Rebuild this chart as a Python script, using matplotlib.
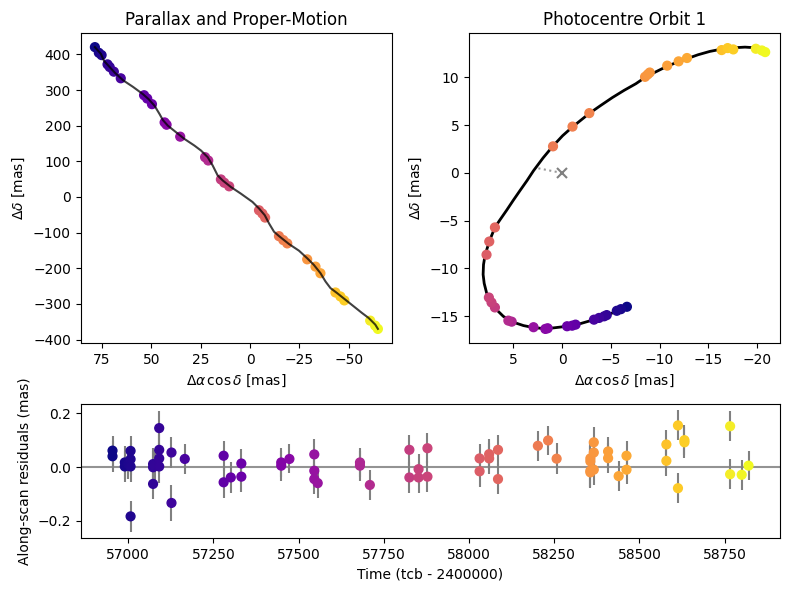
import matplotlib
matplotlib.use("Agg")
import matplotlib.pyplot as plt
from matplotlib.colors import Normalize

# ---------------- residual panel data ----------------
res_time = [56954, 56954, 56990, 56990, 57000, 57007, 57007, 57007, 57007,
            57073, 57073, 57073, 57078, 57091, 57091, 57091, 57091,
            57127, 57127, 57166, 57280, 57280, 57301, 57332, 57332,
            57449, 57449, 57473, 57546, 57546, 57546, 57556, 57680, 57680, 57709,
            57825, 57825, 57852, 57852, 57878, 57878,
            58031, 58031, 58059, 58059, 58085, 58085, 58202, 58232, 58257,
            58356, 58356, 58356, 58356, 58366, 58366, 58366, 58408, 58408,
            58439, 58462, 58462, 58579, 58579, 58613, 58613, 58632, 58632,
            58766, 58766, 58800, 58820]
res_value = [0.061, 0.040, 0.017, 0.002, 0.011, 0.060, 0.029, 0.002, -0.184,
             0.011, -0.001, -0.063, 0.005, 0.145, 0.064, 0.032, 0.002,
             0.054, -0.134, 0.030, 0.042, -0.057, -0.039, 0.013, -0.036,
             0.017, 0.005, 0.030, 0.047, -0.014, -0.045, -0.060, 0.017, 0.005, -0.067,
             0.064, -0.039, -0.008, -0.039, 0.070, -0.036,
             0.032, -0.016, 0.048, 0.032, 0.064, -0.045, 0.079, 0.099, 0.031,
             0.032, 0.021, -0.014, -0.020, 0.092, 0.054, -0.010, 0.058, 0.033,
             -0.034, 0.042, -0.010, 0.084, 0.023, 0.155, -0.079, 0.100, 0.092,
             0.152, -0.027, -0.029, 0.005]
res_error = [0.056, 0.058, 0.060, 0.058, 0.057, 0.056, 0.060, 0.058, 0.059,
             0.058, 0.060, 0.057, 0.058, 0.063, 0.060, 0.058, 0.060,
             0.056, 0.067, 0.055, 0.056, 0.058, 0.057, 0.055, 0.056,
             0.055, 0.056, 0.054, 0.056, 0.058, 0.057, 0.056, 0.054, 0.056, 0.055,
             0.057, 0.058, 0.056, 0.057, 0.056, 0.058,
             0.055, 0.057, 0.056, 0.058, 0.056, 0.057, 0.056, 0.055, 0.058,
             0.057, 0.058, 0.060, 0.058, 0.058, 0.056, 0.057, 0.055, 0.056,
             0.056, 0.054, 0.055, 0.055, 0.056, 0.056, 0.055, 0.056, 0.057,
             0.055, 0.055, 0.056, 0.055]

# ---------------- parallax + proper motion panel ----------------
pm_time = [56954, 56990, 57007, 57073, 57091, 57127, 57166, 57280, 57301, 57332,
           57449, 57473, 57546, 57680, 57709, 57825, 57852, 57878,
           58031, 58059, 58085, 58202, 58232, 58257, 58356, 58408, 58439,
           58579, 58613, 58632, 58766, 58800, 58820]
pm_ra = [78.6, 76.6, 75.2, 72.2, 71.1, 69.0, 65.5, 53.7, 52.1, 49.7,
         43.3, 42.3, 35.4, 22.8, 21.2, 14.8, 13.1, 10.6,
         -4.5, -6.2, -7.6, -14.6, -16.8, -18.8, -28.9, -33.1, -35.6,
         -43.2, -45.7, -47.7, -60.8, -63.3, -64.7]
pm_dec = [420.6, 404.7, 398.2, 372.2, 364.7, 351.7, 333.1, 285.6, 276.3, 260.5,
          209.3, 202.8, 169.3, 111.7, 102.4, 49.3, 40.0, 29.9,
          -37.3, -46.6, -57.8, -109.9, -121.0, -130.3, -175.0, -195.4, -214.0,
          -268.0, -279.1, -290.3, -347.0, -361.0, -370.3]
pm_model_ra = [78.61, 75.59, 73.91, 71.89, 68.53, 64.33, 59.29, 54.25, 51.39, 48.37,
               45.85, 44.17, 41.65, 37.45, 33.25, 28.21, 24.85, 21.49, 18.97, 16.45,
               13.93, 9.73, 4.69, -1.19, -4.55, -7.41, -9.59, -12.11, -14.63, -19.67,
               -24.71, -28.91, -32.27, -35.64, -38.16, -40.68, -44.04, -48.24, -52.44,
               -56.64, -60.0, -63.36, -64.70]
pm_model_dec = [420.6, 402.0, 381.5, 369.4, 349.0, 327.6, 309.0, 288.5, 274.5, 255.9,
                232.7, 215.9, 200.1, 181.5, 162.9, 144.3, 130.3, 111.7, 88.5, 60.6,
                46.6, 28.0, 9.4, -13.9, -32.5, -51.1, -74.3, -97.6, -109.7, -132.0,
                -150.6, -172.0, -190.6, -213.9, -237.1, -255.7, -269.7, -288.3, -306.9,
                -325.5, -339.5, -358.1, -370.2]

# ---------------- photocentre orbit panel ----------------
orb_time = [56954, 56990, 57007, 57073, 57091, 57127, 57166, 57280, 57301, 57332,
            57449, 57473, 57546, 57680, 57709, 57825, 57852, 57878,
            58031, 58059, 58085, 58202, 58232, 58257, 58356, 58366, 58375,
            58408, 58439, 58462, 58579, 58613, 58632, 58766, 58800, 58820]
orb_ra = [-6.65, -6.03, -5.61, -4.58, -4.31, -3.79, -3.27, -1.38, -1.03, -0.51,
          1.48, 1.72, 2.93, 5.17, 5.51, 6.89, 7.24, 7.51,
          7.75, 7.47, 6.89, 0.93, -1.07, -2.79, -8.51, -8.78, -8.99,
          -10.78, -11.95, -12.81, -16.36, -16.98, -17.56, -19.87, -20.49, -20.83]
orb_dec = [-14.01, -14.26, -14.43, -14.88, -15.01, -15.18, -15.36, -15.88, -15.99, -16.05,
           -16.26, -16.33, -16.15, -15.57, -15.46, -14.08, -13.56, -13.04,
           -8.56, -7.18, -5.70, 2.79, 4.86, 6.27, 10.07, 10.32, 10.52,
           11.24, 11.69, 12.04, 12.87, 13.08, 12.94, 13.01, 12.83, 12.66]
orb_model_ra = [-6.68, -5.68, -4.58, -3.27, -1.89, -0.51, 0.86, 1.90, 2.93, 3.96,
                5.17, 6.03, 6.79, 7.34, 7.75, 7.99, 8.10, 8.06, 7.92, 7.68,
                7.34, 6.89, 6.40, 5.68, 5.00, 4.31, 3.60, 2.93, 1.95, 0.93,
                -0.05, -1.06, -1.89, -2.79, -3.96, -5.16, -6.37, -7.57, -8.50, -9.47,
                -10.77, -11.95, -12.81, -13.94, -15.15, -16.35, -17.56, -18.76, -19.87,
                -20.49, -20.90]
orb_model_dec = [-14.05, -14.46, -14.88, -15.36, -15.77, -16.05, -16.22, -16.29, -16.19, -15.98,
                 -15.57, -15.01, -14.25, -13.39, -12.53, -11.56, -10.63, -9.60, -8.73, -7.87,
                 -6.84, -5.70, -4.95, -3.89, -2.85, -1.83, -0.80, 0.24, 1.58, 2.83,
                 3.90, 4.82, 5.50, 6.24, 7.07, 7.90, 8.66, 9.35, 10.00, 10.52,
                 11.18, 11.66, 11.97, 12.38, 12.73, 12.97, 13.11, 13.18, 13.11,
                 12.94, 12.73]
peri_ra = [0.0, 2.58]
peri_dec = [0.0, 0.52]

norm = Normalize(vmin=min(res_time), vmax=max(res_time))
cmap = plt.get_cmap("plasma")

fig = plt.figure(figsize=(7.89, 5.91), dpi=100)
ax1 = fig.add_axes([0.1023, 0.4196, 0.3946, 0.5245])
ax2 = fig.add_axes([0.5944, 0.4196, 0.3942, 0.5245])
ax3 = fig.add_axes([0.1023, 0.0892, 0.8867, 0.2267])

# Panel 1
ax1.scatter(pm_ra, pm_dec, c=pm_time, cmap=cmap, norm=norm, s=40, zorder=2)
ax1.plot(pm_model_ra, pm_model_dec, color="k", alpha=0.75, lw=1.5, zorder=3)
ax1.invert_xaxis()
ax1.set_title("Parallax and Proper-Motion")
ax1.set_xlabel(r"$\Delta\alpha\,\cos\delta$ [mas]")
ax1.set_ylabel(r"$\Delta\delta$ [mas]")

# Panel 2
ax2.plot(orb_model_ra, orb_model_dec, color="k", lw=2, zorder=2)
ax2.scatter(orb_ra, orb_dec, c=orb_time, cmap=cmap, norm=norm, s=40, zorder=3)
ax2.plot(peri_ra, peri_dec, color="gray", ls=":", lw=1.5, alpha=0.8, zorder=2)
ax2.plot([0], [0], marker="x", color="gray", ms=7, mew=1.5, ls="none", zorder=3)
ax2.invert_xaxis()
ax2.set_title("Photocentre Orbit 1")
ax2.set_xlabel(r"$\Delta\alpha\,\cos\delta$ [mas]")
ax2.set_ylabel(r"$\Delta\delta$ [mas]")

# Panel 3
ax3.errorbar(res_time, res_value, yerr=res_error, fmt="none", ecolor="gray",
             elinewidth=1.5, zorder=2)
ax3.axhline(0, color="gray", lw=1.5, alpha=0.85, zorder=1)
ax3.scatter(res_time, res_value, c=res_time, cmap=cmap, norm=norm, s=40, zorder=3)
ax3.set_xlabel("Time (tcb - 2400000)")
ax3.set_ylabel("Along-scan residuals (mas)")

fig.savefig("out.png", dpi=100)
